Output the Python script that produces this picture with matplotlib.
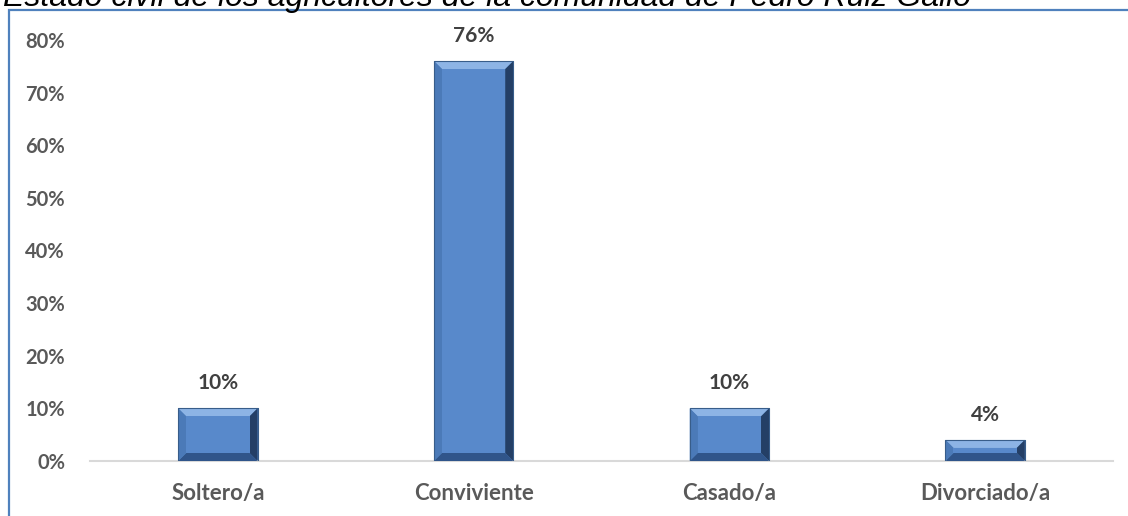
import numpy as np
import matplotlib.pyplot as plt
from matplotlib.patches import Rectangle, Polygon
from matplotlib.ticker import FuncFormatter

categorias = ["Soltero/a", "Conviviente", "Casado/a", "Divorciado/a"]
porcentajes = [0.10, 0.76, 0.10, 0.04]
titulo = "Estado civil de los agricultores de la comunidad de Pedro Ruiz Gallo"

W, H, DPI = 1128, 516, 100
fig = plt.figure(figsize=(W / DPI, H / DPI), dpi=DPI)
ax = fig.add_axes([90 / W, 55 / H, 1023 / W, 421 / H])

x = np.arange(len(categorias))
ancho = 0.31
bars = ax.bar(x, porcentajes, width=ancho, color="#4F81BD", edgecolor="#3A6496",
              linewidth=0.6, zorder=2)

ax.set_xlim(-0.5, len(categorias) - 0.5)
ax.set_ylim(0, 0.8)
ax.set_yticks(np.arange(0, 0.81, 0.1))
ax.yaxis.set_major_formatter(FuncFormatter(lambda v, p: f"{v*100:.0f}%"))
ax.set_xticks(x)
ax.set_xticklabels(categorias)

fuente = "Lato"
for lab in ax.get_yticklabels():
    lab.set_fontfamily(fuente)
    lab.set_fontweight("bold")
    lab.set_fontsize(14.5)
    lab.set_color("#595959")
for lab in ax.get_xticklabels():
    lab.set_fontfamily(fuente)
    lab.set_fontweight("bold")
    lab.set_fontsize(16)
    lab.set_color("#595959")
ax.tick_params(axis="y", length=0, pad=18)
ax.tick_params(axis="x", length=0, pad=16)

for s in ["top", "right", "left"]:
    ax.spines[s].set_visible(False)
ax.spines["bottom"].set_color("#D9D9D9")
ax.spines["bottom"].set_linewidth(1.5)

# bevel effect on bars, computed from bar geometry in pixels
fig.canvas.draw()
to_px = ax.transData
to_data = ax.transData.inverted()
b = 8
for r in bars:
    x0, y0 = to_px.transform((r.get_x(), r.get_y()))
    x1, y1 = to_px.transform((r.get_x() + r.get_width(), r.get_y() + r.get_height()))
    bb = min(b, (y1 - y0) / 2.2)
    ix0, ix1, iy0, iy1 = x0 + b, x1 - b, y0 + bb, y1 - bb
    caras = [
        ([(x0, y1), (x1, y1), (ix1, iy1), (ix0, iy1)], "#8DB4E5"),
        ([(x1, y1), (x1, y0), (ix1, iy0), (ix1, iy1)], "#243F66"),
        ([(x0, y0), (x1, y0), (ix1, iy0), (ix0, iy0)], "#30558A"),
        ([(x0, y0), (x0, y1), (ix0, iy1), (ix0, iy0)], "#4B7AB8"),
    ]
    for pts, c in caras:
        ax.add_patch(Polygon(to_data.transform(pts), closed=True, facecolor=c,
                             edgecolor="none", zorder=3))
    ax.add_patch(Rectangle(to_data.transform((ix0, iy0)), r.get_width() - 2 * b / (x1 - x0) * r.get_width(),
                           r.get_height() - 2 * bb / (y1 - y0) * r.get_height(),
                           facecolor="#5889CB", edgecolor="none", zorder=3))
    ax.add_patch(Rectangle((r.get_x(), r.get_y()), r.get_width(), r.get_height(),
                           facecolor="none", edgecolor="#385D8A", linewidth=0.8, zorder=4))

for xi, v in zip(x, porcentajes):
    ax.annotate(f"{v*100:.0f}%", (xi, v), xytext=(0, 18), textcoords="offset points",
                ha="center", va="center", fontsize=15, fontweight="bold",
                fontfamily=fuente, color="#404040")

# outer frame and cut-off title
fig.patches.append(Rectangle((9 / W, -0.2), 1.2, 1.2 - 10 / H, transform=fig.transFigure,
                             facecolor="none", edgecolor="#4F81BD", linewidth=1.6))
fig.text(3 / W, 1 - 6 / H, titulo, ha="left", va="baseline", fontsize=23,
         fontstyle="italic", fontfamily="Liberation Sans", color="black")

fig.savefig("out.png", dpi=DPI)
